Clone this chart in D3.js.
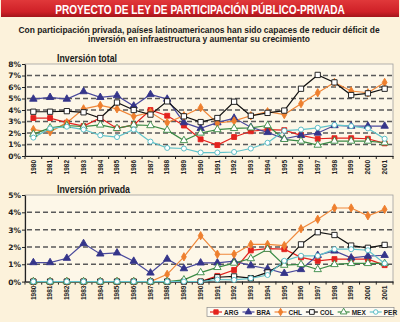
<!DOCTYPE html>
<head>
  <meta charset="utf-8">
  <script src="https://cdnjs.cloudflare.com/ajax/libs/d3/7.8.5/d3.min.js"></script>
</head>

<style>

body {
  margin: 0;
  background-color: #FCF2DB;
}

svg {
  display: block;
  font-family: 'Liberation Sans', Arial, sans-serif;
}

</style>

<body>
  <svg id='chart' width='400' height='322'></svg>
</body>

<script>

var years = ['1980', '1981', '1982', '1983', '1984', '1985', '1986', '1987', '1988', '1989', '1990',
             '1991', '1992', '1993', '1994', '1995', '1996', '1997', '1998', '1999', '2000', '2001'];
var countries = ['ARG', 'BRA', 'CHL', 'COL', 'MEX', 'PER'];

// Inversion total (% del PIB)
var arg_total = [3.3, 3.3, 2.9, 2.6, 3.3, 2.4, 2.7, 4.0, 3.5, 2.65, 1.45, 0.95, 1.65, 2.15, 2.3, 2.25, 1.8, 1.5, 1.55, 1.55, 1.5, 1.1];
var bra_total = [4.95, 5.1, 4.95, 5.6, 5.1, 5.25, 4.35, 5.35, 4.95, 2.9, 2.4, 2.9, 3.3, 2.5, 2.05, 1.5, 1.8, 2.0, 2.65, 2.6, 2.6, 2.6];
var chl_total = [2.3, 2.1, 2.9, 4.1, 4.4, 4.1, 3.45, 3.8, 2.9, 3.5, 4.2, 2.85, 3.05, 3.5, 3.85, 3.6, 4.55, 5.5, 6.4, 5.65, 5.5, 6.4];
var col_total = [3.85, 3.85, 3.9, 3.8, 3.3, 4.65, 4.0, 3.6, 4.75, 3.45, 2.95, 3.3, 4.72, 3.5, 3.75, 3.95, 5.85, 7.05, 6.4, 5.3, 5.45, 5.85];
var mex_total = [1.9, 2.45, 2.65, 2.55, 2.7, 2.4, 2.7, 2.65, 2.25, 1.35, 2.0, 2.3, 2.4, 2.45, 2.65, 1.45, 1.3, 0.95, 1.3, 1.3, 1.3, 1.15];
var per_total = [1.6, 2.4, 2.55, 2.3, 1.8, 1.65, 2.3, 1.25, 0.7, 0.65, 0.3, 0.3, 0.35, 0.65, 1.15, 2.2, 2.3, 2.45, 2.7, 2.6, 2.4, 1.5];

// Inversion privada (% del PIB)
var arg_priv = [0, 0, 0, 0, 0, 0, 0, 0, 0, 0, 0, 0.33, 0.67, 1.8, 1.9, 1.87, 1.4, 1.2, 1.3, 1.3, 1.3, 0.95];
var bra_priv = [1.1, 1.1, 1.35, 2.2, 1.6, 1.66, 1.18, 0.5, 1.3, 0.75, 1.08, 1.08, 1.18, 0.92, 0.74, 0.48, 0.7, 1.52, 1.77, 1.37, 1.47, 1.52];
var chl_priv = [0, 0, 0, 0, 0, 0, 0, 0, 0.42, 1.43, 2.65, 1.58, 1.58, 2.15, 2.15, 2.08, 3.05, 3.6, 4.25, 4.25, 3.8, 4.17];
var col_priv = [0, 0, 0, 0, 0, 0, 0, 0, 0, 0, 0, 0.25, 0.3, 0.2, 0.53, 1.09, 2.15, 2.85, 2.69, 2.08, 1.95, 2.12];
var mex_priv = [0, 0, 0, 0, 0, 0, 0, 0, 0, 0.1, 0.52, 0.82, 1.07, 1.33, 1.87, 0.95, 0.99, 0.7, 0.99, 1.05, 1.05, 1.05];
var per_priv = [0, 0, 0, 0, 0, 0, 0, 0, 0, 0, 0, 0.12, 0.1, 0.19, 0.38, 1.2, 1.49, 1.49, 1.87, 1.87, 1.81, 1.05];

var total_data = [arg_total, bra_total, chl_total, col_total, mex_total, per_total];
var priv_data = [arg_priv, bra_priv, chl_priv, col_priv, mex_priv, per_priv];

var styles = {
  ARG: {line: '#E3231E', fill: '#E3231E', stroke: '#E3231E', shape: d3.symbolSquare, size: 24},
  BRA: {line: '#4A4A9C', fill: '#35358A', stroke: '#35358A', shape: d3.symbolTriangle, size: 24},
  CHL: {line: '#F0883A', fill: '#EE7F2E', stroke: '#EE7F2E', shape: d3.symbolDiamond, size: 20},
  COL: {line: '#111111', fill: '#ffffff', stroke: '#111111', shape: d3.symbolSquare, size: 28},
  MEX: {line: '#3A8A45', fill: '#ffffff', stroke: '#3A8A45', shape: d3.symbolTriangle, size: 24},
  PER: {line: '#62C3CB', fill: '#ffffff', stroke: '#4FB8C2', shape: d3.symbolCircle, size: 20}
};

var svg = d3.select('#chart');
var left = 25, right = 393;

var x = d3.scaleBand().domain(years).range([left, right]);
var cx = function(i) { return x(years[i]) + x.bandwidth() / 2; };

// squeezes a centred line of text to a given width (condensed look)
function squeezed(parent, txt, mid, base, size, width, colour) {
  var t = parent.append('text')
      .attr('text-anchor', 'middle')
      .attr('fill', colour)
      .attr('font-weight', 'bold')
      .attr('font-size', size)
      .text(txt);
  var k = width / t.node().getComputedTextLength();
  t.attr('transform', 'translate(' + mid + ',' + base + ') scale(' + k + ',1)');
  return t;
}

// header
var defs = svg.append('defs');
var grad = defs.append('linearGradient').attr('id', 'redbar')
    .attr('x1', 0).attr('y1', 0).attr('x2', 0).attr('y2', 1);
grad.append('stop').attr('offset', '0%').attr('stop-color', '#E0383A');
grad.append('stop').attr('offset', '70%').attr('stop-color', '#CF2027');
grad.append('stop').attr('offset', '100%').attr('stop-color', '#A3151B');

svg.append('rect')
    .attr('x', 1).attr('y', 0).attr('width', 398).attr('height', 17)
    .attr('fill', 'url(#redbar)');

squeezed(svg, 'PROYECTO DE LEY DE PARTICIPACIÓN PÚBLICO-PRIVADA', 200, 13.5, 13, 290, '#fff');
squeezed(svg, 'Con participación privada, países latinoamericanos han sido capaces de reducir déficit de',
         199, 32.5, 9.5, 362, '#1a1a1a');
squeezed(svg, 'inversión en infraestructura y aumentar su crecimiento', 199, 42, 9.5, 222, '#1a1a1a');

function drawChart(top, bottom, ymax, data, title, titleY, titleLen) {
  var y = d3.scaleLinear().domain([0, ymax]).range([bottom, top]);
  var g = svg.append('g');

  g.append('rect')
      .attr('x', left).attr('y', top)
      .attr('width', right - left).attr('height', bottom - top)
      .attr('fill', '#FDF7E8')
      .attr('stroke', '#a0a0a0').attr('stroke-width', 0.8);

  g.selectAll('line.grid')
      .data(d3.range(1, ymax))
    .enter().append('line')
      .attr('class', 'grid')
      .attr('x1', left + 2).attr('x2', right)
      .attr('y1', function(d) { return y(d); })
      .attr('y2', function(d) { return y(d); })
      .attr('stroke', '#5a5a5a')
      .attr('stroke-width', 1.5)
      .attr('stroke-dasharray', '5,3');

  var yAxis = g.append('g')
      .attr('transform', 'translate(' + left + ',0)')
      .call(d3.axisLeft(y).tickValues(d3.range(0, ymax + 1))
        .tickFormat(function(d) { return d + '%'; })
        .tickSize(3).tickSizeOuter(0));
  yAxis.select('.domain').attr('stroke', '#222').attr('stroke-width', 1.2);
  yAxis.selectAll('.tick line').attr('stroke', '#222');
  yAxis.selectAll('text')
      .attr('font-family', 'DejaVu Sans, sans-serif')
      .attr('font-weight', 'bold')
      .attr('font-size', 7.5)
      .attr('fill', '#222')
      .attr('x', -4);

  var xAxis = g.append('g')
      .attr('transform', 'translate(0,' + bottom + ')')
      .call(d3.axisBottom(x).tickSize(0).tickSizeOuter(0));
  xAxis.select('.domain').attr('stroke', '#222').attr('stroke-width', 1.2);
  xAxis.selectAll('text')
      .attr('transform', 'rotate(-90)')
      .attr('text-anchor', 'end')
      .attr('x', -4).attr('y', 0).attr('dy', '0.35em')
      .attr('font-weight', 'bold')
      .attr('font-size', 6.5)
      .attr('fill', '#222');

  g.selectAll('line.xtick')
      .data(years.concat(['end']))
    .enter().append('line')
      .attr('class', 'xtick')
      .attr('x1', function(d, i) { return left + i * x.step(); })
      .attr('x2', function(d, i) { return left + i * x.step(); })
      .attr('y1', bottom).attr('y2', bottom + 3)
      .attr('stroke', '#222');

  squeezed(g, title, 57 + titleLen / 2, titleY, 10.5, titleLen, '#1a1a1a');

  var line = d3.line()
      .x(function(d, i) { return cx(i); })
      .y(function(d) { return y(d); });

  countries.forEach(function(c, k) {
    var st = styles[c];
    g.append('path')
        .datum(data[k])
        .attr('d', line)
        .attr('fill', 'none')
        .attr('stroke', st.line)
        .attr('stroke-width', 1.2);
  });

  countries.forEach(function(c, k) {
    var st = styles[c];
    g.selectAll('path.m' + c)
        .data(data[k])
      .enter().append('path')
        .attr('class', 'm' + c)
        .attr('d', d3.symbol().type(st.shape).size(st.size))
        .attr('transform', function(d, i) { return 'translate(' + cx(i) + ',' + y(d) + ')'; })
        .attr('fill', st.fill)
        .attr('stroke', st.stroke)
        .attr('stroke-width', 0.9);
  });
}

drawChart(64, 156, 8, total_data, 'Inversión total', 61.5, 60);
drawChart(195, 281.6, 5, priv_data, 'Inversión privada', 192.5, 73);

// legend
var lg = svg.append('g');
lg.append('rect')
    .attr('x', 207).attr('y', 307.5)
    .attr('width', 187).attr('height', 9)
    .attr('fill', '#FEFBF2')
    .attr('stroke', '#8a8a8a').attr('stroke-width', 0.7);

var lx = 210;
countries.forEach(function(c) {
  var st = styles[c];
  lg.append('line')
      .attr('x1', lx).attr('x2', lx + 12)
      .attr('y1', 312).attr('y2', 312)
      .attr('stroke', st.line).attr('stroke-width', 1.2);
  lg.append('path')
      .attr('d', d3.symbol().type(st.shape).size(st.size * 0.8))
      .attr('transform', 'translate(' + (lx + 6) + ',312)')
      .attr('fill', st.fill)
      .attr('stroke', st.stroke)
      .attr('stroke-width', 0.9);
  var t = lg.append('text')
      .attr('x', lx + 14).attr('y', 314.5)
      .attr('font-weight', 'bold')
      .attr('font-size', 6.5)
      .attr('fill', '#222')
      .text(c);
  lx = lx + 14 + t.node().getComputedTextLength() + 4;
});

</script>
